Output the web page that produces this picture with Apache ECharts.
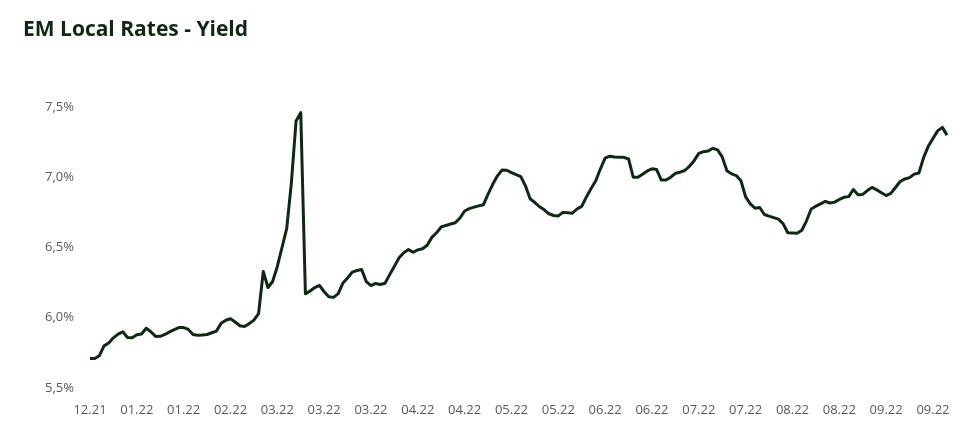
<!DOCTYPE html>
<html>
<head>
<meta charset="utf-8">
<script src="https://cdn.jsdelivr.net/npm/echarts@6/dist/echarts.min.js"></script>
<style>html,body{margin:0;padding:0;background:#fff;}#c{width:978px;height:444px;}</style>
</head>
<body>
<div id="c"></div>
<script>
const titleText = "EM Local Rates - Yield";
const tickLabels = ["12.21","01.22","01.22","02.22","03.22","03.22","03.22","04.22","04.22","05.22","05.22","06.22","06.22","07.22","07.22","08.22","08.22","09.22","09.22"];
const yieldValues = [
5.71,5.71,5.73,5.80,5.82,5.857,5.883,5.90,5.86,5.857,
5.879,5.884,5.925,5.90,5.867,5.868,5.881,5.899,5.916,5.93,
5.93,5.917,5.88,5.876,5.878,5.881,5.893,5.905,5.96,5.982,
5.993,5.97,5.943,5.938,5.958,5.983,6.03,6.33,6.215,6.258,
6.365,6.50,6.634,6.96,7.40,7.46,6.17,6.19,6.215,6.23,
6.185,6.15,6.145,6.172,6.247,6.283,6.325,6.336,6.344,6.257,
6.229,6.244,6.237,6.246,6.307,6.366,6.427,6.463,6.485,6.466,
6.483,6.491,6.516,6.572,6.605,6.646,6.657,6.667,6.676,6.71,
6.76,6.777,6.787,6.796,6.804,6.88,6.95,7.01,7.052,7.05,
7.033,7.018,7.004,6.938,6.846,6.82,6.79,6.768,6.74,6.728,
6.725,6.75,6.748,6.744,6.774,6.793,6.86,6.92,6.975,7.06,
7.136,7.15,7.144,7.142,7.142,7.13,7.00,7.00,7.022,7.045,
7.06,7.055,6.98,6.98,7.00,7.028,7.036,7.048,7.078,7.118,
7.17,7.182,7.187,7.206,7.195,7.145,7.047,7.024,7.012,6.975,
6.86,6.81,6.78,6.785,6.735,6.723,6.713,6.702,6.67,6.605,
6.604,6.602,6.623,6.69,6.774,6.794,6.811,6.828,6.817,6.823,
6.842,6.857,6.862,6.912,6.875,6.878,6.905,6.928,6.91,6.89,
6.87,6.885,6.927,6.97,6.988,6.997,7.022,7.03,7.14,7.22,
7.276,7.33,7.355,7.30
];
const labelEvery = 10;
const categories = yieldValues.map((v, i) => String(i));

const chart = echarts.init(document.getElementById('c'), null, {renderer: 'canvas'});
chart.setOption({
  animation: false,
  backgroundColor: '#ffffff',
  title: {
    text: titleText,
    left: 18,
    top: 15,
    textStyle: {fontFamily: 'Open Sans', fontWeight: 'bold', fontSize: 21, color: '#0d2a10'}
  },
  grid: {left: 90, right: 31, top: 107, bottom: 56, containLabel: false},
  xAxis: {
    type: 'category',
    data: categories,
    boundaryGap: false,
    axisLine: {show: false},
    axisTick: {show: false},
    splitLine: {show: false},
    axisLabel: {
      interval: labelEvery - 1,
      margin: 16,
      fontFamily: 'Open Sans',
      fontSize: 13,
      color: '#595959',
      formatter: function (v, i) { return tickLabels[Math.round(i / labelEvery)] || ''; }
    }
  },
  yAxis: {
    type: 'value',
    min: 5.5,
    max: 7.5,
    interval: 0.5,
    axisLine: {show: false},
    axisTick: {show: false},
    splitLine: {show: false},
    axisLabel: {
      margin: 16,
      fontFamily: 'Open Sans',
      fontSize: 13,
      color: '#595959',
      formatter: function (v) { return v.toFixed(1).replace('.', ',') + '%'; }
    }
  },
  series: [{
    type: 'line',
    data: yieldValues,
    showSymbol: false,
    symbol: 'none',
    lineStyle: {width: 3, color: '#0d2a10', join: 'round'},
    itemStyle: {color: '#0d2a10'}
  }]
});
</script>
</body>
</html>
